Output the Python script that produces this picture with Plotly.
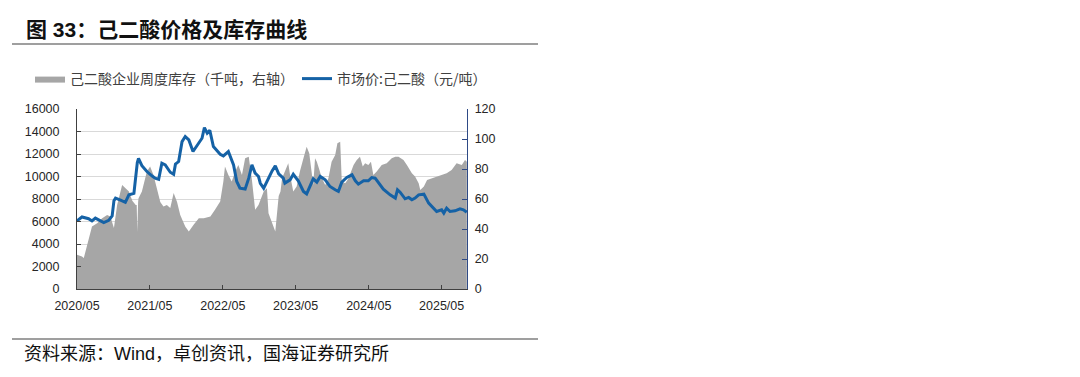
import plotly.graph_objects as go

# ---------------- data ----------------
price_dates = [
    "2020-05-01", "2020-05-26", "2020-06-28", "2020-07-15", "2020-08-01", "2020-08-26",
    "2020-09-12", "2020-10-07", "2020-10-24", "2020-11-02", "2020-11-10", "2020-12-05",
    "2020-12-29", "2021-01-16", "2021-02-10", "2021-02-27", "2021-03-05", "2021-03-22",
    "2021-04-16", "2021-05-11", "2021-05-27", "2021-06-14", "2021-06-30", "2021-07-17",
    "2021-08-11", "2021-08-28", "2021-09-06", "2021-09-22", "2021-10-09", "2021-10-25",
    "2021-11-12", "2021-12-03", "2021-12-23", "2022-01-17", "2022-01-29", "2022-02-12",
    "2022-02-25", "2022-03-15", "2022-04-18", "2022-05-04", "2022-05-29", "2022-06-24",
    "2022-07-10", "2022-07-26", "2022-08-21", "2022-09-08", "2022-09-24", "2022-10-10",
    "2022-10-27", "2022-11-05", "2022-11-22", "2022-12-08", "2023-01-03", "2023-01-19",
    "2023-02-05", "2023-02-28", "2023-03-08", "2023-04-03", "2023-04-19", "2023-05-14",
    "2023-06-09", "2023-06-25", "2023-07-12", "2023-07-28", "2023-08-15", "2023-09-01",
    "2023-09-26", "2023-10-20", "2023-11-15", "2023-12-01", "2023-12-18", "2024-01-12",
    "2024-02-07", "2024-02-24", "2024-03-10", "2024-04-05", "2024-04-29", "2024-05-16",
    "2024-06-02", "2024-06-19", "2024-07-13", "2024-08-16", "2024-09-11", "2024-09-22",
    "2024-10-05", "2024-10-30", "2024-11-17", "2024-12-03", "2024-12-19", "2025-01-06",
    "2025-02-01", "2025-02-25", "2025-03-20", "2025-04-06", "2025-05-01", "2025-05-12",
    "2025-05-26", "2025-06-12", "2025-07-07", "2025-08-01", "2025-08-18", "2025-09-04",
]
price_values = [
    6060, 6400, 6250, 6050, 6300, 6050,
    5900, 6100, 6500, 7850, 8080, 7900,
    7700, 8370, 8500, 11240, 11600, 10970,
    10440, 10060, 9850, 9750, 11180, 11030,
    10380, 10200, 11100, 11330, 13100, 13550,
    13250, 12220, 12750, 13400, 14350, 13850,
    14100, 12660, 11980, 11830, 12220, 11030,
    9560, 8960, 8880, 9850, 11030, 10300,
    10000, 9400, 8960, 9560, 10500, 10950,
    10240, 9850, 9410, 9700, 10200, 9620,
    8670, 8460, 9110, 9790, 9500, 10000,
    9700, 9110, 8820, 8670, 9500, 9910,
    10150, 9620, 9320, 9620, 9620, 9910,
    9850, 9410, 8880, 8370, 8080, 8820,
    8610, 8020, 8140, 7930, 8080, 8370,
    8430, 7630, 7190, 6890, 7040, 6750,
    7190, 6890, 6950, 7130, 7040, 6830,
]

stock_dates = [
    "2020-05-01", "2020-05-26", "2020-06-04", "2020-06-20", "2020-07-15", "2020-08-10",
    "2020-09-04", "2020-09-29", "2020-10-15", "2020-11-02", "2020-11-18", "2020-12-13",
    "2020-12-29", "2021-01-16", "2021-02-02", "2021-02-19", "2021-02-24", "2021-02-27",
    "2021-03-03", "2021-03-05", "2021-03-22", "2021-04-16", "2021-05-02", "2021-05-19",
    "2021-06-05", "2021-06-22", "2021-07-08", "2021-07-25", "2021-08-11", "2021-08-28",
    "2021-09-14", "2021-09-30", "2021-10-25", "2021-11-12", "2021-12-06", "2022-01-01",
    "2022-01-26", "2022-02-28", "2022-03-23", "2022-04-18", "2022-05-04", "2022-05-12",
    "2022-05-29", "2022-06-15", "2022-07-02", "2022-07-18", "2022-08-05", "2022-08-21",
    "2022-09-08", "2022-09-24", "2022-10-10", "2022-10-27", "2022-11-22", "2022-12-08",
    "2022-12-16", "2023-01-03", "2023-01-19", "2023-02-05", "2023-02-14", "2023-02-22",
    "2023-03-08", "2023-03-25", "2023-04-03", "2023-04-19", "2023-05-06", "2023-05-22",
    "2023-06-09", "2023-06-25", "2023-07-08", "2023-07-20", "2023-07-28", "2023-08-06",
    "2023-08-15", "2023-08-28", "2023-09-09", "2023-09-26", "2023-10-12", "2023-10-28",
    "2023-11-15", "2023-11-26", "2023-12-10", "2023-12-18", "2024-01-04", "2024-01-21",
    "2024-02-15", "2024-03-02", "2024-03-18", "2024-04-01", "2024-04-13", "2024-04-29",
    "2024-05-12", "2024-05-24", "2024-06-10", "2024-07-05", "2024-07-30", "2024-08-24",
    "2024-09-11", "2024-09-27", "2024-10-22", "2024-11-08", "2024-12-03", "2024-12-19",
    "2025-01-06", "2025-01-14", "2025-02-01", "2025-02-17", "2025-03-12", "2025-04-06",
    "2025-05-01", "2025-05-26", "2025-06-20", "2025-07-15", "2025-08-10", "2025-08-26",
    "2025-09-04",
]
stock_values = [
    22.8, 21.7, 20.6, 29.5, 41.7, 43.9,
    47.2, 49.4, 48.3, 40.6, 56.0, 69.4,
    67.2, 65.0, 58.8, 56.0, 56.0, 38.0,
    58.0, 60.5, 65.0, 78.3, 81.6, 76.0,
    67.0, 58.0, 55.0, 56.0, 54.0, 64.0,
    58.0, 49.4, 41.7, 38.4, 42.8, 47.2,
    47.2, 48.3, 52.8, 58.3, 71.6, 81.6,
    76.0, 71.6, 78.3, 82.7, 76.0, 87.1,
    88.2, 72.7, 52.8, 56.0, 65.0, 67.2,
    50.5, 43.9, 38.4, 62.0, 65.0, 73.8,
    78.3, 83.8, 76.0, 65.0, 68.3, 78.3,
    87.1, 94.9, 90.5, 76.0, 69.4, 87.1,
    84.9, 79.4, 73.8, 69.4, 73.8, 84.9,
    89.4, 97.1, 98.2, 71.6, 70.5, 73.8,
    82.7, 86.0, 88.2, 81.6, 83.8, 82.7,
    84.9, 76.0, 78.3, 82.7, 83.8, 87.1,
    88.2, 88.2, 86.0, 82.7, 77.2, 75.0,
    70.5, 66.0, 68.3, 72.7, 73.8, 75.0,
    76.0, 77.2, 79.4, 83.8, 82.7, 86.0,
    84.9,
]

x_tick_vals = ["2020-05-01", "2021-05-01", "2022-05-01", "2023-05-01", "2024-05-01", "2025-05-01"]
x_tick_text = ["2020/05", "2021/05", "2022/05", "2023/05", "2024/05", "2025/05"]

title_text = "图 33：己二酸价格及库存曲线"
source_text = "资料来源：Wind，卓创资讯，国海证券研究所"
stock_name = "己二酸企业周度库存（千吨，右轴）"
price_name = "市场价:己二酸（元/吨）"

# ---------------- layout geometry ----------------
# target screen pixels; the page body adds an 8px offset, so subtract it
W, H = 1080, 377
OFF = 8
SL, SR, ST, SB = 77, 467, 109, 289          # plot area on screen
PL, PR, PT, PB = SL - OFF, SR - OFF, ST - OFF, SB - OFF
pw, ph = PR - PL, PB - PT


def px(x):
    return (x - SL) / pw


def py(y):
    return (SB - y) / ph


FONT = "Liberation Sans, Arial, Noto Sans CJK SC, sans-serif"
CJK = "Noto Sans CJK SC, Liberation Sans, sans-serif"
TXT = "#262626"

fig = go.Figure()

fig.add_trace(go.Scatter(
    x=stock_dates, y=stock_values, name=stock_name,
    mode="lines", fill="tozeroy", fillcolor="#A6A6A6",
    line=dict(width=0, color="#A6A6A6"), yaxis="y",
))
fig.add_trace(go.Scatter(
    x=price_dates, y=price_values, name=price_name,
    mode="lines", line=dict(width=3, color="#1562A6"), yaxis="y2",
))

fig.update_layout(
    width=W, height=H, autosize=False,
    margin=dict(l=PL, r=W - PR, t=PT, b=H - PB, pad=0, autoexpand=False),
    paper_bgcolor="white", plot_bgcolor="white",
    font=dict(family=FONT, size=12.5, color=TXT),
    showlegend=True,
    legend=dict(
        orientation="h", xref="paper", yref="container",
        x=px(30), y=1 - (79 - OFF) / H, xanchor="left", yanchor="middle",
        font=dict(family=CJK, size=14, color="#404040"),
        bgcolor="rgba(0,0,0,0)", itemwidth=30, tracegroupgap=0,
        entrywidth=222, entrywidthmode="pixels",
    ),
    xaxis=dict(
        type="date", range=["2020-05-01", "2025-09-05"],
        tickvals=x_tick_vals, ticktext=x_tick_text,
        ticks="inside", ticklen=4, tickcolor="#404040",
        showline=True, linecolor="#404040", linewidth=1,
        showgrid=False, zeroline=False, automargin=False,
        tickfont=dict(family=FONT, size=12.5, color=TXT),
        ticklabelstandoff=5,
    ),
    yaxis=dict(
        side="right", range=[0, 120], dtick=20, tick0=0,
        ticks="inside", ticklen=5, tickcolor="#2E4A86",
        showline=True, linecolor="#2E4A86", linewidth=1.3,
        showgrid=False, zeroline=False, automargin=False,
        tickfont=dict(family=FONT, size=12.5, color=TXT),
        ticklabelstandoff=4,
    ),
    yaxis2=dict(
        overlaying="y", side="left", range=[0, 16000], dtick=2000, tick0=0,
        tickformat="d",
        ticks="inside", ticklen=4, tickcolor="#404040",
        showline=True, linecolor="#404040", linewidth=1,
        showgrid=True, gridcolor="#D9D9D9", gridwidth=1, zeroline=False,
        automargin=False,
        tickfont=dict(family=FONT, size=12.5, color=TXT),
        ticklabelstandoff=14,
    ),
)

fig.add_annotation(
    text="<b>" + title_text + "</b>", xref="paper", yref="paper",
    x=px(24), y=py(29), xanchor="left", yanchor="middle", showarrow=False,
    font=dict(family="Liberation Sans, Noto Sans CJK SC, sans-serif", size=21, color="#111111"),
)
fig.add_annotation(
    text=source_text, xref="paper", yref="paper",
    x=px(22), y=py(354), xanchor="left", yanchor="middle", showarrow=False,
    font=dict(family="Liberation Sans, Noto Sans CJK SC, sans-serif", size=18, color="#111111"),
)
fig.add_shape(type="line", xref="paper", yref="paper",
              x0=px(12), x1=px(538), y0=py(44), y1=py(44),
              line=dict(color="#7F7F7F", width=1.5))
fig.add_shape(type="line", xref="paper", yref="paper",
              x0=px(12), x1=px(538), y0=py(339), y1=py(339),
              line=dict(color="#7F7F7F", width=1.5))

fig.write_html("out.html")
